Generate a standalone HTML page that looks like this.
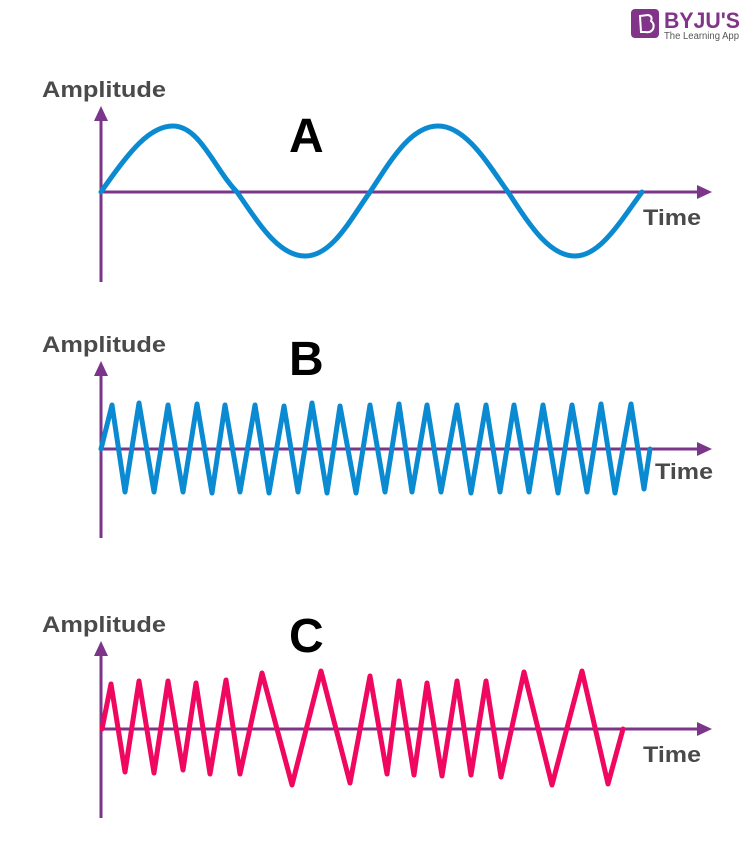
<!DOCTYPE html>
<html><head><meta charset="utf-8"><style>
html,body{margin:0;padding:0;background:#fff;}
svg{display:block;}
</style></head><body>
<svg width="750" height="859" viewBox="0 0 750 859" xmlns="http://www.w3.org/2000/svg" font-family="Liberation Sans, sans-serif">
<!-- logo -->
<rect x="631" y="9" width="28" height="29" rx="4" fill="#813588"/>
<path d="M640 16 L648 15 Q653 16 651 21 Q655 24 653 29 Q651 33 645 32 L641 32 Z" fill="none" stroke="#fff" stroke-width="2"/>
<text x="664" y="28" font-size="22" font-weight="bold" fill="#813588" textLength="76" lengthAdjust="spacingAndGlyphs">BYJU'S</text>
<text x="664" y="39" font-size="10" fill="#555" textLength="75" lengthAdjust="spacingAndGlyphs">The Learning App</text>

<g fill="#4a4a4a" font-weight="bold" font-size="22">
<text x="42" y="97" textLength="124" lengthAdjust="spacingAndGlyphs">Amplitude</text>
<text x="42" y="352" textLength="124" lengthAdjust="spacingAndGlyphs">Amplitude</text>
<text x="42" y="632" textLength="124" lengthAdjust="spacingAndGlyphs">Amplitude</text>
<text x="643" y="225" textLength="58" lengthAdjust="spacingAndGlyphs">Time</text>
<text x="655" y="479" textLength="58" lengthAdjust="spacingAndGlyphs">Time</text>
<text x="643" y="762" textLength="58" lengthAdjust="spacingAndGlyphs">Time</text>
</g>
<g fill="#000" font-weight="bold" font-size="48">
<text x="289" y="152">A</text>
<text x="289" y="375">B</text>
<text x="289" y="652">C</text>
</g>

<!-- axes -->
<g stroke="#7b3589" stroke-width="3" fill="#7b3589">
<line x1="101" y1="115" x2="101" y2="282"/>
<line x1="101" y1="192" x2="700" y2="192"/>
<line x1="101" y1="370" x2="101" y2="538"/>
<line x1="101" y1="449" x2="700" y2="449"/>
<line x1="101" y1="650" x2="101" y2="818"/>
<line x1="101" y1="729" x2="700" y2="729"/>
</g>
<g fill="#7b3589">
<polygon points="101,106 94,121 108,121"/>
<polygon points="712,192 697,185 697,199"/>
<polygon points="101,361 94,376 108,376"/>
<polygon points="712,449 697,442 697,456"/>
<polygon points="101,641 94,656 108,656"/>
<polygon points="712,729 697,722 697,736"/>
</g>

<!-- A sine -->
<path d="M101 192 C130 150 150 126 173 126 C200 126 215 170 237 192 C258 222 278 256 305 256 C332 256 350 220 370 192 C390 162 410 126 438 126 C466 126 488 164 508 192 C528 222 548 256 575 256 C600 256 620 222 642 192" fill="none" stroke="#0a8ad1" stroke-width="5" stroke-linecap="round"/>

<!-- B -->
<path d="M101 449 L112 405 L125 492 L139 403 L154 492 L168 405 L183 492 L197 404 L212 493 L225 405 L240 492 L255 405 L269 493 L284 406 L298 492 L312 403 L327 493 L340 406 L356 493 L370 405 L385 492 L399 404 L412 492 L427 405 L441 492 L457 405 L471 493 L486 405 L500 492 L514 405 L529 492 L543 405 L558 493 L572 405 L587 492 L601 404 L615 493 L631 404 L644 489 L650 449" fill="none" stroke="#0a8ad1" stroke-width="5" stroke-linejoin="round" stroke-linecap="round"/>

<!-- C -->
<path d="M102 729 L111 684 L125 772 L139 681 L154 773 L168 681 L183 770 L196 683 L210 774 L226 680 L240 774 L262 673 L292 785 L321 671 L350 783 L370 676 L387 774 L399 681 L414 775 L427 683 L442 776 L457 681 L471 775 L486 681 L501 777 L524 672 L552 785 L582 671 L608 784 L623 729" fill="none" stroke="#f0075f" stroke-width="5" stroke-linejoin="round" stroke-linecap="round"/>
</svg>
</body></html>
